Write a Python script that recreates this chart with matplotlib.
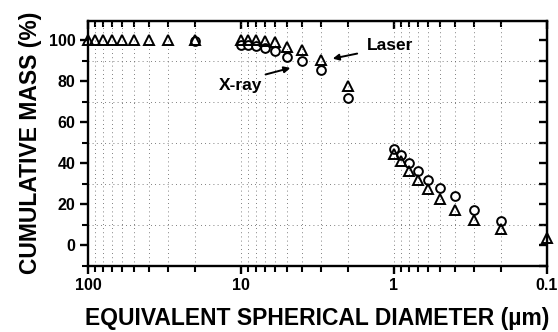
import matplotlib
matplotlib.use("Agg")
import matplotlib.pyplot as plt
from matplotlib.ticker import LogLocator, MultipleLocator, NullFormatter, FixedLocator

plt.rcParams['font.family'] = ['Liberation Sans', 'DejaVu Sans']
plt.rcParams['font.weight'] = 'bold'

# X-ray (circles)
xray_d = [20,
          10, 9, 8, 7, 6, 5, 4, 3, 2,
          1.0, 0.9, 0.8, 0.7, 0.6, 0.5, 0.4, 0.3, 0.2]
xray_m = [99.5,
          97.5, 97.5, 97, 96, 94.5, 92, 90, 85.5, 72,
          47, 44, 40, 36, 32, 28, 24, 17, 12]

# Laser (triangles)
laser_d = [100, 90, 80, 70, 60, 50, 40, 30, 20,
           10, 9, 8, 7, 6, 5, 4, 3, 2,
           1.0, 0.9, 0.8, 0.7, 0.6, 0.5, 0.4, 0.3, 0.2, 0.1]
laser_m = [100, 100, 100, 100, 100, 100, 100, 100, 100,
           100, 100, 100, 99.5, 99, 96.5, 95, 90.5, 77.5,
           44.5, 41, 36, 32, 27.5, 22.5, 17, 12.5, 8, 3.5]

fig = plt.figure(figsize=(5.58, 3.32), dpi=100)
ax = fig.add_axes([0.158, 0.199, 0.822, 0.739])

ax.plot(xray_d, xray_m, 'o', ms=6.3, mfc='white', mec='black', mew=1.4, clip_on=False, zorder=3)
ax.plot(laser_d, laser_m, '^', ms=6.8, mfc='none', mec='black', mew=1.4, clip_on=False, zorder=4)

ax.set_xscale('log')
ax.set_xlim(100, 0.1)
ax.set_ylim(-10, 109.5)

ax.xaxis.set_minor_locator(LogLocator(base=10, subs=range(2, 10)))
ax.xaxis.set_minor_formatter(NullFormatter())
ax.set_xticks([100, 10, 1, 0.1])
ax.set_xticklabels(['100', '10', '1', '0.1'])
ax.yaxis.set_major_locator(MultipleLocator(20))
ax.yaxis.set_minor_locator(FixedLocator([-10, 10, 30, 50, 70, 90]))

ax.grid(True, which='both', axis='x', linestyle=(0, (1, 4)), color='#555555', linewidth=0.6)
ax.grid(True, which='minor', axis='y', linestyle=(0, (1, 4)), color='#555555', linewidth=0.6)

for s in ax.spines.values():
    s.set_linewidth(1.7)

ax.tick_params(which='major', direction='out', length=6, width=1.7, labelsize=11.5, pad=3)
ax.tick_params(which='minor', direction='out', length=4, width=1.5)

# top and right ticks point inward
top = ax.secondary_xaxis('top')
top.tick_params(which='major', direction='in', length=6, width=1.7, labeltop=False)
top.tick_params(which='minor', direction='in', length=4, width=1.5)
top.xaxis.set_minor_locator(LogLocator(base=10, subs=range(2, 10)))
top.xaxis.set_minor_formatter(NullFormatter())
top.set_xticks([100, 10, 1, 0.1])
top.set_xticklabels([])
right = ax.secondary_yaxis('right')
right.yaxis.set_major_locator(MultipleLocator(10))
right.tick_params(direction='in', length=6, width=1.7, labelright=False)

for lab in ax.get_xticklabels() + ax.get_yticklabels():
    lab.set_fontweight('bold')

ax.set_xlabel('EQUIVALENT SPHERICAL DIAMETER (\u00b5m)', fontsize=16.5, fontweight='bold', labelpad=10)
ax.set_ylabel('CUMULATIVE MASS (%)', fontsize=16.5, fontweight='bold', labelpad=5)

ax.text(1.5, 97.5, 'Laser', fontsize=12.5, fontweight='bold', ha='left', va='center')
ax.annotate('', xy=(2.62, 90.7), xytext=(1.67, 93.7),
            arrowprops=dict(arrowstyle='-|>', color='black', lw=1.4, mutation_scale=9))
ax.text(7.3, 78, 'X-ray', fontsize=12.5, fontweight='bold', ha='right', va='center')
ax.annotate('', xy=(4.57, 86.8), xytext=(7.2, 82.9),
            arrowprops=dict(arrowstyle='-|>', color='black', lw=1.4, mutation_scale=9))

fig.savefig('out.png', dpi=100)
